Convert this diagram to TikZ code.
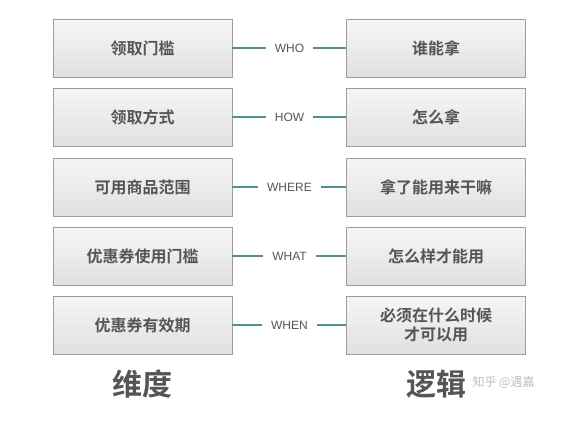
\documentclass[tikz,border=0pt]{standalone}
\usepackage{fontspec}
\setmainfont{Liberation Sans}
\newfontfamily\cjk{Noto Sans CJK SC}
\newfontfamily\cjkb{Noto Sans CJK SC Bold}
\definecolor{boxline}{HTML}{9C9C9C}
\definecolor{boxtop}{HTML}{F6F6F6}
\definecolor{boxbot}{HTML}{E0E0E0}
\definecolor{txt}{HTML}{555555}
\definecolor{link}{HTML}{4F8F96}
\tikzset{
  dimbox/.style={draw=boxline, line width=0.9pt, top color=boxtop, bottom color=boxbot,
    minimum width=179pt, minimum height=58pt, inner sep=0pt, align=center,
    font=\cjkb\fontsize{16}{19}\selectfont, text=txt},
  linklabel/.style={font=\fontsize{12}{14}\selectfont, text=txt, inner xsep=9pt, inner ysep=2pt},
  linkline/.style={draw=link, line width=2pt},
  bigtitle/.style={font=\cjkb\fontsize{30}{34}\selectfont, text=txt},
  wmark/.style={font=\cjk\fontsize{12}{14}\selectfont, text=black!25}
}
\begin{document}
\begin{tikzpicture}[x=1pt,y=-1pt]
\useasboundingbox[fill=white] (0,0) rectangle (565,423);
\foreach \i/\yy/\l/\r/\w in {1/48/领取门槛/谁能拿/WHO, 2/117/领取方式/怎么拿/HOW, 3/187/可用商品范围/拿了能用来干嘛/WHERE, 4/256/优惠券使用门槛/怎么样才能用/WHAT, 5/325/优惠券有效期/{必须在什么时候\\才可以用}/WHEN}{
  \node[dimbox] (L\i) at (142.5,\yy) {\l};
  \node[dimbox] (R\i) at (436,\yy) {\r};
  \node[linklabel] (W\i) at (289.5,\yy) {\w};
  \draw[linkline] (L\i.east) -- (W\i.west);
  \draw[linkline] (W\i.east) -- (R\i.west);
}
\node[bigtitle] (T1) at (142.5,384) {维度};
\node[bigtitle] (T2) at (436,384) {逻辑};
\node[wmark, anchor=west] (M) at (469,382) {知乎 @遇嘉};
\end{tikzpicture}
\end{document}
